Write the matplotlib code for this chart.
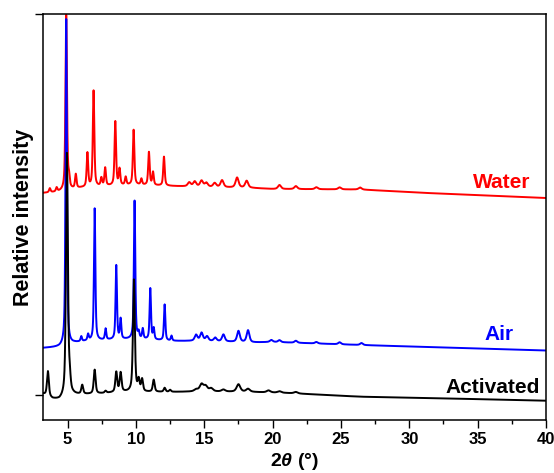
import numpy as np
import matplotlib
matplotlib.use("Agg")
import matplotlib.pyplot as plt
from matplotlib.ticker import MultipleLocator

plt.rcParams['font.family'] = ['Liberation Sans', 'DejaVu Sans']
plt.rcParams['mathtext.fontset'] = 'custom'
plt.rcParams['mathtext.it'] = 'Liberation Sans:italic:bold'
plt.rcParams['mathtext.rm'] = 'Liberation Sans:bold'

# ---- data (2theta in degrees, intensity in offset units) ----
water_base_x = [3.2, 4.3, 6.0, 8.0, 10.0, 12.5, 15.0, 18.5, 20.0, 26.4, 31.3, 40.0]
water_base_y = [227, 228, 232, 234, 235, 234, 233, 232, 231, 230.5, 227, 222]
water_pk_x = [3.7, 4.2, 4.9, 5.1, 5.6, 6.45, 6.9, 7.47, 7.75, 8.49, 8.8, 9.25, 9.83,
              10.4, 10.95, 11.25, 12.05, 13.9, 14.3, 14.8, 15.15, 15.76, 16.3, 17.4,
              18.1, 20.5, 21.7, 23.2, 24.9, 26.4]
water_pk_h = [4, 4, 175, 10, 14, 34, 96, 8, 18, 64, 16, 8, 55,
              6, 33, 13, 29, 4, 5, 6, 4, 4, 7, 10,
              7, 4, 3, 2, 2, 2]

air_base_x = [3.2, 4.4, 5.5, 6.5, 8.0, 10.0, 12.5, 15.0, 18.5, 20.0, 26.4, 31.3, 40.0]
air_base_y = [72, 73, 77, 79, 80, 81, 79, 79, 77.5, 78, 75, 73, 69.5]
air_pk_x = [4.9, 6.0, 6.5, 6.98, 7.78, 8.56, 8.88, 9.9, 10.2, 10.5, 11.05, 11.3, 12.1,
            12.6, 14.4, 14.8, 15.2, 15.8, 16.4, 17.5, 18.2, 19.9, 20.5, 21.7, 23.2,
            24.9, 26.5]
air_pk_h = [326, 5, 6, 132, 11, 74, 20, 138, 6, 10, 51, 11, 36,
            5, 6, 8, 4.5, 3.5, 7, 11, 12, 2, 2, 2, 1.5,
            2, 2]

act_base_x = [3.2, 3.9, 4.4, 5.4, 7.0, 9.0, 12.5, 15.0, 18.5, 21.0, 26.4, 31.3, 40.0]
act_base_y = [26, 21, 20, 25, 26, 28, 28, 28.5, 28, 27, 23.3, 22, 19.3]
act_pk_x = [3.56, 4.95, 5.15, 6.07, 6.98, 7.78, 8.56, 8.88, 9.85, 10.2, 10.45, 11.3,
            12.1, 12.5, 14.4, 14.8, 15.1, 15.5, 16.4, 17.5, 18.2, 19.7, 20.5, 21.7]
act_pk_h = [25, 243, 14, 9, 24, 2, 20, 19, 112, 11, 12, 12,
            4, 2, 2, 7, 5, 3, 2, 7.5, 3, 2, 1.5, 1.5]

labels = ["Water", "Air", "Activated"]
colors = ["#ff0000", "#0000ff", "#000000"]


def pattern(x, bx, by, px, ph, fwhm):
    y = np.interp(x, bx, by)
    for c, h in zip(px, ph):
        w = fwhm if c < 13 else 2.0 * fwhm
        g = np.exp(-4 * np.log(2) * ((x - c) / w) ** 2)
        l = 1.0 / (1.0 + 4 * ((x - c) / w) ** 2)
        y = y + h * (0.4 * g + 0.6 * l)
    return y


x = np.arange(3.2, 40.0001, 0.01)
y_water = pattern(x, water_base_x, water_base_y, water_pk_x, water_pk_h, 0.13)
y_air = pattern(x, air_base_x, air_base_y, air_pk_x, air_pk_h, 0.12)
y_act = pattern(x, act_base_x, act_base_y, act_pk_x, act_pk_h, 0.16)

fig = plt.figure(figsize=(5.54, 4.73), dpi=100)
ax = fig.add_axes([43 / 554, 53 / 473, 503 / 554, 406 / 473])

ax.plot(x, y_water, color=colors[0], lw=1.4)
ax.plot(x, y_air, color=colors[1], lw=1.4)
ax.plot(x, y_act, color=colors[2], lw=1.4)

ax.set_xlim(3.2, 40)
ax.set_ylim(0, 406)
ax.xaxis.set_major_locator(MultipleLocator(5))
ax.xaxis.set_minor_locator(MultipleLocator(2.5))
ax.set_yticks([25.5, 406])
ax.set_yticklabels([])
ax.tick_params(axis='both', which='major', direction='out', length=5.5, width=1.0,
               labelsize=12, pad=3)
ax.tick_params(axis='x', which='minor', direction='out', length=3, width=1.0)
for lab in ax.get_xticklabels():
    lab.set_fontweight('bold')
for s in ax.spines.values():
    s.set_linewidth(1.1)

ax.set_xlabel(r'2$\theta$ (°)', fontsize=14, fontweight='bold', labelpad=3)
ax.set_ylabel('Relative intensity', fontsize=15.5, fontweight='bold', labelpad=-2)

ax.text(36.77, 238, labels[0], color=colors[0], fontsize=15, fontweight='bold',
        ha='center', va='center')
ax.text(36.6, 85, labels[1], color=colors[1], fontsize=15, fontweight='bold',
        ha='center', va='center')
ax.text(36.1, 33, labels[2], color=colors[2], fontsize=15, fontweight='bold',
        ha='center', va='center')

fig.savefig("out.png", dpi=100)
